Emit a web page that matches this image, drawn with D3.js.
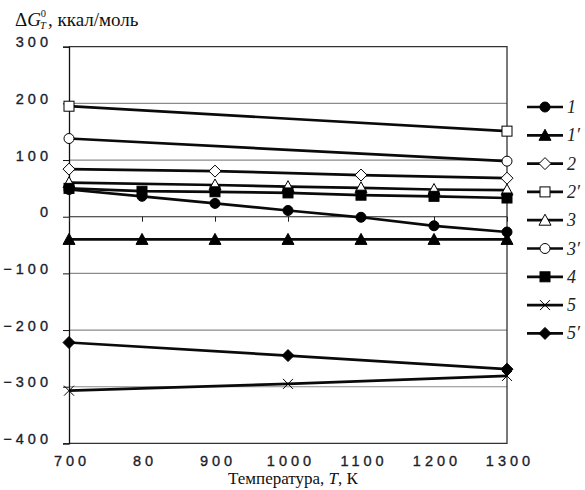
<!DOCTYPE html>
<html>
<head>
<meta charset="utf-8">
<script src="https://cdn.jsdelivr.net/npm/d3@7"></script>
<style>
  body { margin: 0; background: #fff; }
  svg { display: block; }
</style>
</head>
<body>
<svg id="chart" width="585" height="490"></svg>
<script>
// categories on the x axis (the "80" is as printed in the source)
const temps = ["700", "80", "900", "1000", "1100", "1200", "1300"];
const yTicks = [300, 200, 100, 0, -100, -200, -300, -400];

// series values, null = no point at that temperature
const s1  = [48, 36, 23.5, 11, -1, -16, -27];
const s1p = [-40, -40, -40, -40, -40, -40, -40];
const s2  = [84, null, 80.5, null, 73.5, null, 68];
const s2p = [195, null, null, null, null, null, 151];
const s3  = [60, null, 56, 53, 51, 48, 47];
const s3p = [138, null, null, null, null, null, 98];
const s4  = [50, 45, 44, 42, 38, 36, 33];
const s5  = [-307, null, null, -295, null, null, -281];
const s5p = [-222, null, null, -245, null, null, -269];

const seriesNames = ["1", "1\u2032", "2", "2\u2032", "3", "3\u2032", "4", "5", "5\u2032"];
const seriesVals  = [s1, s1p, s2, s2p, s3, s3p, s4, s5, s5p];
const seriesMark  = ["circleF", "triF", "diamO", "sqO", "triO", "circleO", "sqF", "cross", "diamF"];

const svg = d3.select("#chart");
const dims = { left: 69, right: 507, top: 46.7, bottom: 443.4 };

const x = d3.scalePoint().domain(temps).range([dims.left, dims.right]).padding(0);
const y = d3.scaleLinear().domain([-400, 300]).range([dims.bottom, dims.top]);

const tickFont = g => g
  .style("font-family", "Liberation Sans, Arial, sans-serif")
  .style("font-size", "14.5px")
  .style("letter-spacing", "4px")
  .style("fill", "#1c1c2a")
  .style("stroke", "#1c1c2a")
  .style("stroke-width", 0.35);

// gridlines
svg.append("g")
  .selectAll("line")
  .data(yTicks.filter(d => d !== 300 && d !== -400 && d !== 0))
  .enter().append("line")
    .attr("x1", dims.left).attr("x2", dims.right)
    .attr("y1", d => y(d)).attr("y2", d => y(d))
    .style("stroke", "#8a8a8a").style("stroke-width", 1.2);

// plot border (top, right, bottom)
svg.append("path")
  .attr("d", `M${dims.left},${y(300)}H${dims.right}V${y(-400)}H${dims.left}`)
  .style("fill", "none").style("stroke", "#333").style("stroke-width", 1.3);

// y axis
const yAxis = svg.append("g")
  .attr("transform", `translate(${dims.left},0)`)
  .call(d3.axisLeft(y).tickValues(yTicks).tickSize(6).tickFormat(d3.format("d")));
yAxis.select(".domain").style("stroke", "#111").style("stroke-width", 1.3);
yAxis.selectAll(".tick line").style("stroke", "#111");
yAxis.selectAll("text")
  .attr("x", -17).attr("dy", "0")
  .call(tickFont);

// x axis line at zero, labels at the bottom
const xAxis = svg.append("g")
  .attr("transform", `translate(0,${y(0)})`)
  .call(d3.axisBottom(x).tickSize(5).tickFormat(""));
xAxis.select(".domain").attr("d", `M${dims.left},0H${dims.right}`).style("stroke", "#222").style("stroke-width", 1.1);
xAxis.selectAll(".tick line").style("stroke", "#222");

svg.append("g")
  .selectAll("text")
  .data(temps)
  .enter().append("text")
    .attr("x", d => x(d) + 3)
    .attr("y", 466)
    .attr("text-anchor", "middle")
    .call(tickFont)
    .text(d => d);

// markers
function drawMarker(g, type, cx, cy) {
  const s = 5;
  if (type === "circleF" || type === "circleO") {
    g.append("circle").attr("cx", cx).attr("cy", cy).attr("r", s)
      .style("fill", type === "circleF" ? "#000" : "#fff").style("stroke", "#000").style("stroke-width", 1);
  } else if (type === "sqF" || type === "sqO") {
    g.append("rect").attr("x", cx - s).attr("y", cy - s).attr("width", 2 * s).attr("height", 2 * s)
      .style("fill", type === "sqF" ? "#000" : "#fff").style("stroke", "#000").style("stroke-width", 1);
  } else if (type === "triF" || type === "triO") {
    g.append("path").attr("d", `M${cx},${cy - s - 1}L${cx + s + 1},${cy + s}L${cx - s - 1},${cy + s}Z`)
      .style("fill", type === "triF" ? "#000" : "#fff").style("stroke", "#000").style("stroke-width", 1);
  } else if (type === "diamF" || type === "diamO") {
    g.append("path").attr("d", `M${cx},${cy - s - 1}L${cx + s + 1},${cy}L${cx},${cy + s + 1}L${cx - s - 1},${cy}Z`)
      .style("fill", type === "diamF" ? "#000" : "#fff").style("stroke", "#000").style("stroke-width", 1);
  } else if (type === "cross") {
    g.append("path").attr("d", `M${cx - s},${cy - s}L${cx + s},${cy + s}M${cx - s},${cy + s}L${cx + s},${cy - s}`)
      .style("fill", "none").style("stroke", "#000").style("stroke-width", 1);
  }
}

const line = d3.line().x(d => x(d.t)).y(d => y(d.v));

seriesVals.forEach(function(vals, i) {
  const pts = temps.map((t, j) => ({ t: t, v: vals[j] })).filter(d => d.v !== null);
  const g = svg.append("g");
  g.append("path")
    .attr("d", line(pts))
    .style("fill", "none")
    .style("stroke", "#0a0a0a")
    .style("stroke-width", 2.7);
  pts.forEach(d => drawMarker(g, seriesMark[i], x(d.t), y(d.v)));
});

// legend
const legend = svg.append("g");
seriesNames.forEach(function(name, i) {
  const ly = 107 + i * 28.3;
  legend.append("line")
    .attr("x1", 527).attr("x2", 563).attr("y1", ly).attr("y2", ly)
    .style("stroke", "#0a0a0a").style("stroke-width", 2.7);
  drawMarker(legend, seriesMark[i], 545, ly);
  legend.append("text")
    .attr("x", 567).attr("y", ly + 6)
    .style("font-family", "Liberation Serif, Times New Roman, serif")
    .style("font-style", "italic")
    .style("font-size", "18px")
    .style("fill", "#222")
    .text(name);
});

// y title
const title = svg.append("text")
  .attr("x", 15).attr("y", 26)
  .style("font-family", "Liberation Serif, Times New Roman, serif")
  .style("font-size", "19px")
  .style("fill", "#111");
title.append("tspan").text("\u0394");
title.append("tspan").style("font-style", "italic").text("G");
title.append("tspan").attr("dy", 3).attr("dx", -1).style("font-size", "10.5px").style("font-style", "italic").text("T");
title.append("tspan").attr("dy", -12).attr("dx", -5).style("font-size", "10.5px").text("0");
title.append("tspan").attr("dy", 9).attr("dx", 2).text(",  ккал/моль");

// x title
const xt = svg.append("text")
  .attr("x", 293).attr("y", 484)
  .attr("text-anchor", "middle")
  .style("font-family", "Liberation Serif, Times New Roman, serif")
  .style("font-size", "17px")
  .style("fill", "#111");
xt.append("tspan").text("Температура, ");
xt.append("tspan").style("font-style", "italic").text("T");
xt.append("tspan").text(", К");
</script>
</body>
</html>
